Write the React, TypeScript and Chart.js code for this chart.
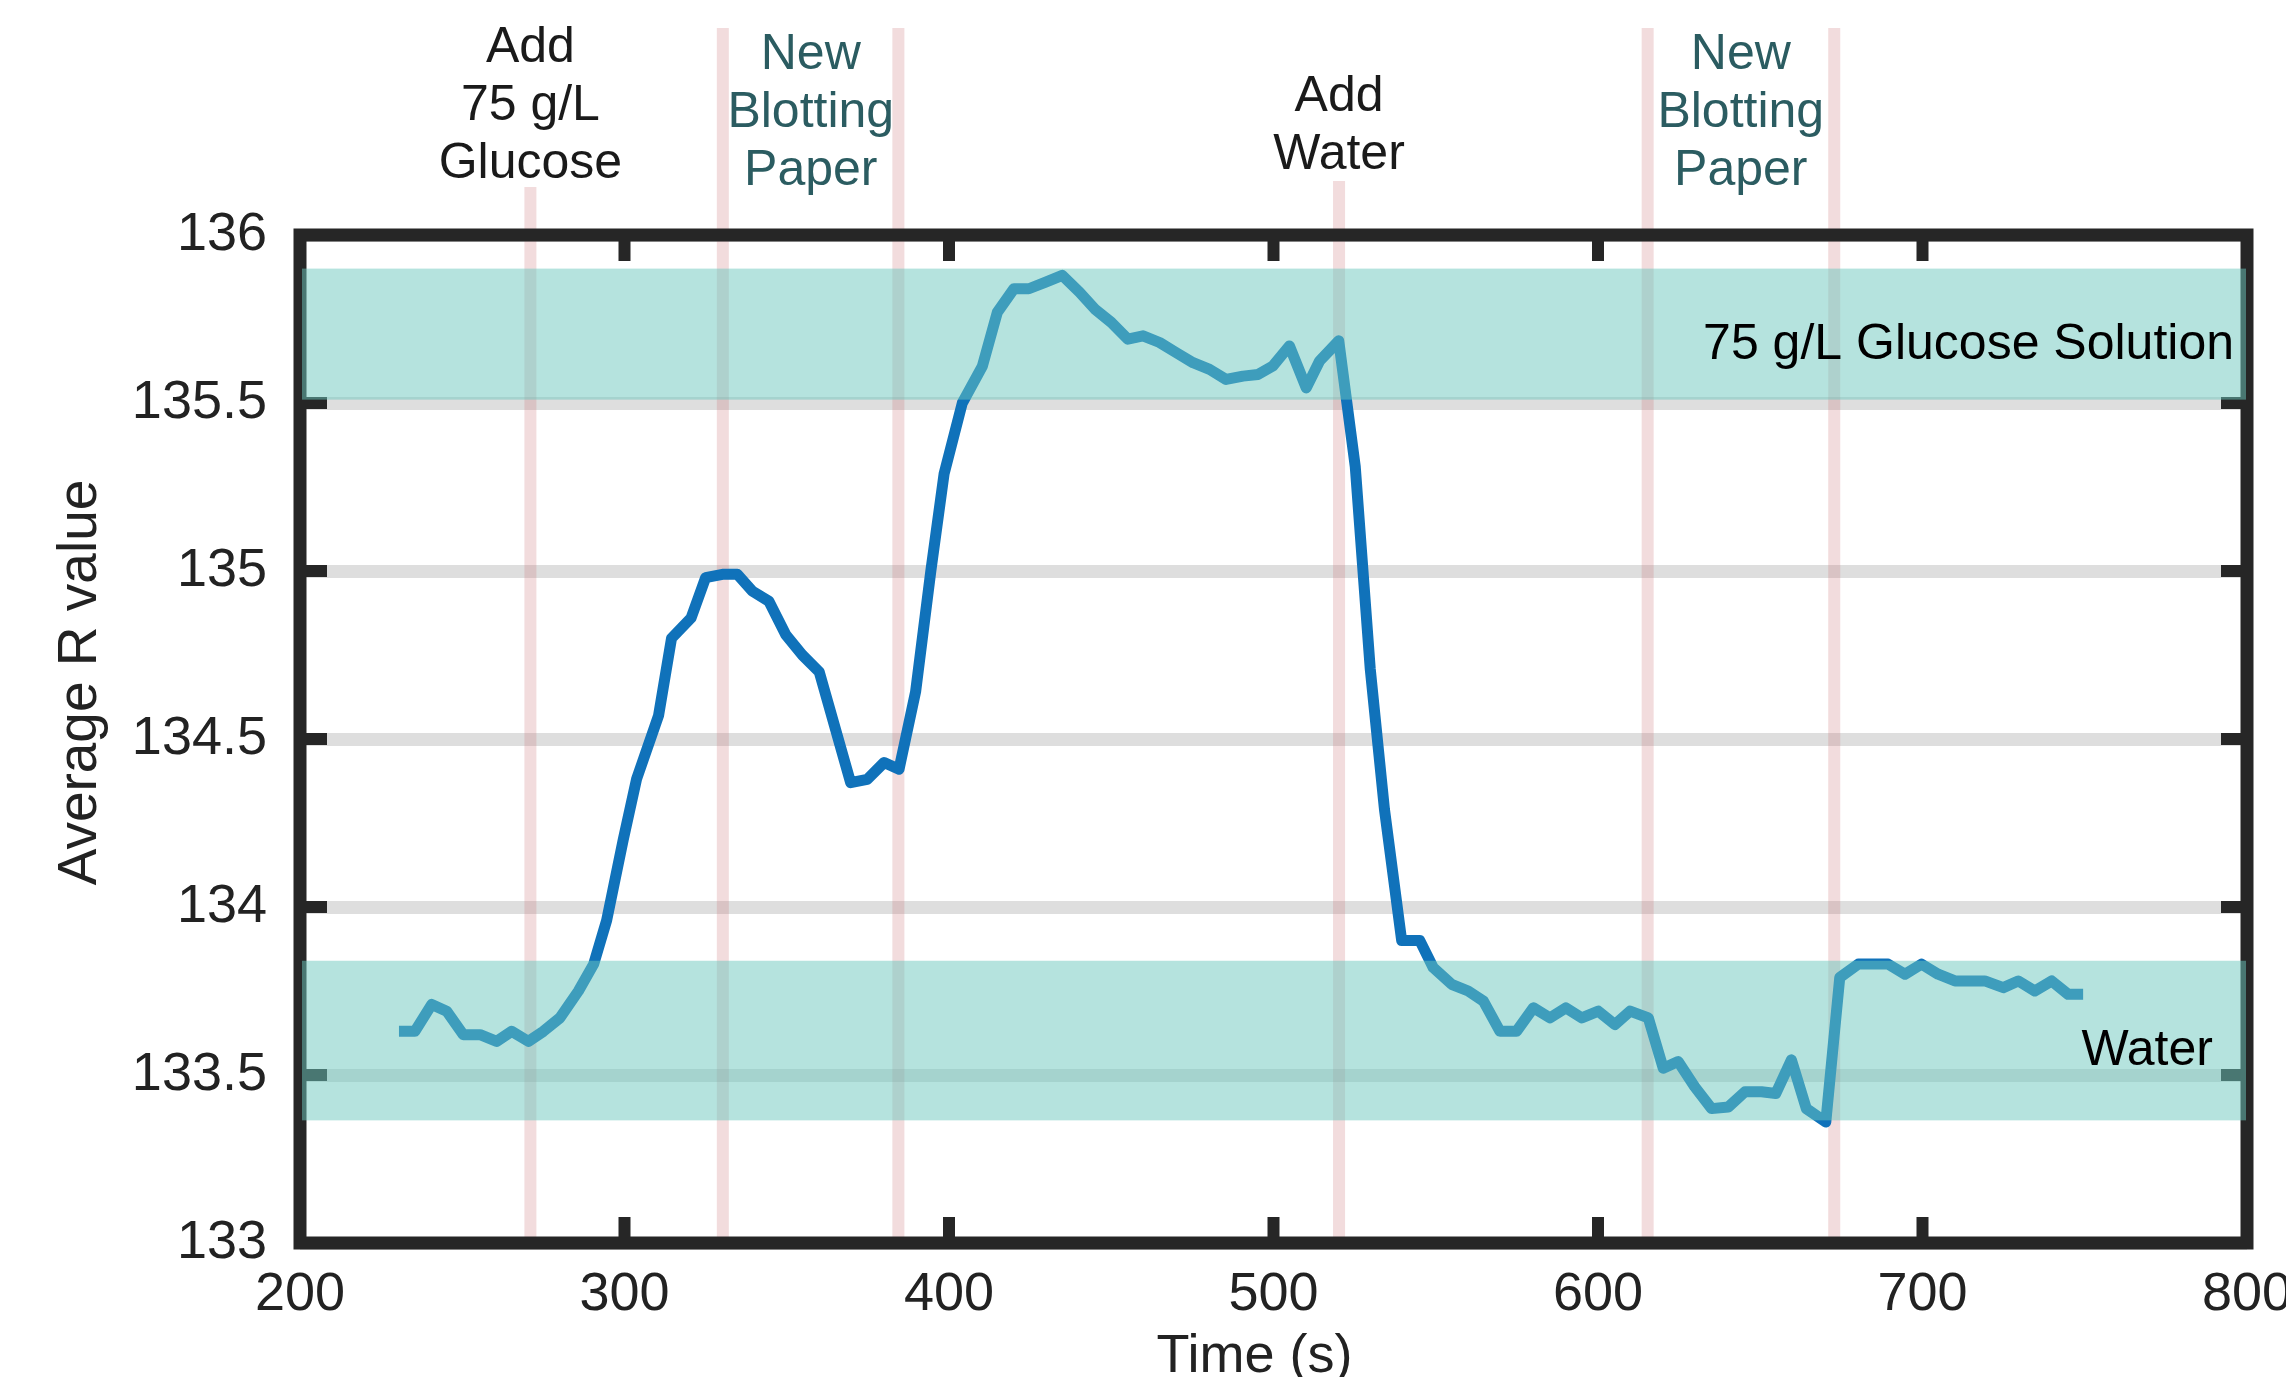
import React, { useEffect, useRef } from "react";
import { Chart, registerables } from "chart.js";

Chart.register(...registerables);

// Time stamps (s) of each R-value sample
const times = [
  230.5, 235.4, 240.6, 245.2, 250.3, 255.5, 260.6, 265.2, 270.4, 275.0,
  280.1, 285.8, 290.5, 294.5, 299.6, 303.7, 310.5, 314.5, 320.5, 325.0,
  330.2, 334.8, 339.4, 344.5, 349.7, 354.8, 360.0, 369.7, 374.8, 380.0,
  384.6, 389.7, 394.4, 398.5, 404.1, 410.3, 414.9, 420.0, 424.6, 429.8,
  434.9, 440.2, 444.9, 450.0, 455.1, 459.8, 464.9, 470.0, 475.2, 480.3,
  485.4, 490.6, 495.2, 499.8, 504.9, 510.1, 514.2, 520.1, 525.2, 529.8,
  534.2, 539.5, 545.1, 549.2, 554.9, 560.0, 564.7, 569.8, 574.9, 580.1,
  585.2, 590.1, 595.0, 600.1, 605.2, 609.9, 615.5, 620.1, 624.7, 629.8,
  635.0, 640.2, 645.3, 650.4, 654.8, 659.6, 664.2, 670.2, 674.5, 680.2,
  689.4, 694.6, 699.7, 704.8, 710.0, 719.2, 724.9, 729.5, 734.6, 739.8,
  744.9, 749.5,
];

// Average R value at each time stamp
const rValues = [
  133.63, 133.63, 133.71, 133.69, 133.62, 133.62, 133.6, 133.63, 133.6, 133.63,
  133.67, 133.75, 133.83, 133.96, 134.2, 134.38, 134.57, 134.8, 134.86, 134.98,
  134.99, 134.99, 134.94, 134.91, 134.81, 134.75, 134.7, 134.37, 134.38, 134.43,
  134.41, 134.64, 135.0, 135.29, 135.5, 135.61, 135.77, 135.84, 135.84, 135.86,
  135.88, 135.83, 135.78, 135.74, 135.69, 135.7, 135.68, 135.65, 135.62, 135.6,
  135.57, 135.58, 135.585, 135.61, 135.67, 135.545, 135.625, 135.685, 135.31, 134.71,
  134.29, 133.9, 133.9, 133.82, 133.77, 133.75, 133.72, 133.63, 133.63, 133.7,
  133.67, 133.7, 133.67, 133.69, 133.65, 133.69, 133.67, 133.52, 133.54, 133.465,
  133.4, 133.405, 133.45, 133.45, 133.445, 133.545, 133.4, 133.36, 133.79, 133.83,
  133.83, 133.8, 133.83, 133.8, 133.78, 133.78, 133.76, 133.78, 133.75, 133.78,
  133.74, 133.74,
];

// Reference ranges (R value) for the two solutions
const glucoseBand = [135.51, 135.9];
const waterBand = [133.365, 133.84];
const glucoseBandLabel = "75 g/L Glucose Solution";
const waterBandLabel = "Water";

// Event markers (s)
const eventTimes = [271.0, 330.3, 384.4, 520.2, 615.3, 672.8];
const glucoseEvent = { time: 271.0, lines: ["Add", "75 g/L", "Glucose"] };
const waterEvent = { time: 520.2, lines: ["Add", "Water"] };
const paperEvents = [357.4, 644.0];
const paperLines = ["New", "Blotting", "Paper"];

const xTitle = "Time (s)";
const yTitle = "Average R value";

const FONT = "'Liberation Sans', Arial, sans-serif";

const decorPlugin = {
  id: "decor",
  beforeDatasetsDraw(chart: any) {
    const { ctx, chartArea, scales } = chart;
    const x = scales.x;
    ctx.save();
    ctx.strokeStyle = "rgba(203,115,119,0.25)";
    ctx.lineWidth = 12;
    eventTimes.forEach((t) => {
      const px = x.getPixelForValue(t);
      let topPx = 28;
      if (t === glucoseEvent.time) topPx = 187;
      if (t === waterEvent.time) topPx = 181;
      ctx.beginPath();
      ctx.moveTo(px, topPx);
      ctx.lineTo(px, chartArea.bottom);
      ctx.stroke();
    });
    ctx.restore();
  },
  afterDatasetsDraw(chart: any) {
    const { ctx, chartArea, scales } = chart;
    const { left, right, top, bottom } = chartArea;
    const x = scales.x;
    const y = scales.y;
    ctx.save();

    // axes box
    ctx.strokeStyle = "#262626";
    ctx.lineWidth = 13;
    ctx.lineJoin = "miter";
    ctx.strokeRect(left, top, right - left, bottom - top);

    // inward tick marks on all four sides
    ctx.lineWidth = 12;
    ctx.lineCap = "butt";
    x.ticks.forEach((tk: any) => {
      if (tk.value <= x.min || tk.value >= x.max) return;
      const px = x.getPixelForValue(tk.value);
      ctx.beginPath();
      ctx.moveTo(px, bottom);
      ctx.lineTo(px, bottom - 26);
      ctx.moveTo(px, top);
      ctx.lineTo(px, top + 26);
      ctx.stroke();
    });
    y.ticks.forEach((tk: any) => {
      if (tk.value <= y.min || tk.value >= y.max) return;
      const py = y.getPixelForValue(tk.value);
      ctx.beginPath();
      ctx.moveTo(left, py);
      ctx.lineTo(left + 27, py);
      ctx.moveTo(right, py);
      ctx.lineTo(right - 26, py);
      ctx.stroke();
    });

    // translucent solution bands
    ctx.fillStyle = "rgba(107,199,189,0.5)";
    [glucoseBand, waterBand].forEach(([lo, hi]) => {
      const y0 = y.getPixelForValue(hi);
      const y1 = y.getPixelForValue(lo);
      ctx.fillRect(left + 2, y0, right - 1 - (left + 2), y1 - y0);
    });

    // band labels
    ctx.fillStyle = "#000";
    ctx.font = `50px ${FONT}`;
    ctx.textAlign = "right";
    ctx.textBaseline = "alphabetic";
    ctx.fillText(glucoseBandLabel, x.getPixelForValue(796), y.getPixelForValue(135.632));
    ctx.fillText(waterBandLabel, x.getPixelForValue(789.5), y.getPixelForValue(133.53));

    // event labels above the axes
    ctx.textAlign = "center";
    ctx.fillStyle = "#1a1a1a";
    glucoseEvent.lines.forEach((s, i) => {
      ctx.fillText(s, x.getPixelForValue(glucoseEvent.time), 62 + i * 58);
    });
    waterEvent.lines.forEach((s, i) => {
      ctx.fillText(s, x.getPixelForValue(waterEvent.time), 111 + i * 58);
    });
    ctx.fillStyle = "#2b5c61";
    paperEvents.forEach((t) => {
      paperLines.forEach((s, i) => {
        ctx.fillText(s, x.getPixelForValue(t), 69 + i * 58);
      });
    });

    // axis titles
    ctx.fillStyle = "#222";
    ctx.font = `54px ${FONT}`;
    ctx.textAlign = "center";
    ctx.fillText(xTitle, (left + right) / 2 - 19, 1372);

    ctx.translate(81, top + 447.5);
    ctx.rotate(-Math.PI / 2);
    ctx.font = `55px ${FONT}`;
    ctx.textBaseline = "middle";
    ctx.fillText(yTitle, 0, 0);
    ctx.restore();
  },
};

export default function App() {
  const canvasRef = useRef<HTMLCanvasElement | null>(null);

  useEffect(() => {
    const canvas = canvasRef.current;
    if (!canvas) return;
    const chart = new Chart(canvas, {
      type: "line",
      data: {
        datasets: [
          {
            data: times.map((t, i) => ({ x: t, y: rValues[i] })),
            borderColor: "#1072ba",
            borderWidth: 11,
            pointRadius: 0,
            tension: 0,
            borderJoinStyle: "round",
            borderCapStyle: "butt",
            fill: false,
          },
        ],
      },
      options: {
        responsive: false,
        devicePixelRatio: 1,
        animation: false,
        events: [],
        layout: { padding: { top: 235, right: 39, bottom: 0, left: 0 } },
        plugins: {
          legend: { display: false },
          tooltip: { enabled: false },
        },
        scales: {
          x: {
            type: "linear",
            position: "bottom",
            min: 200,
            max: 800,
            grid: { display: false, drawTicks: false },
            border: { display: false },
            ticks: {
              stepSize: 100,
              maxRotation: 0,
              autoSkip: false,
              padding: 20,
              color: "#222",
              font: { family: FONT, size: 54 },
              callback: (v: any) => String(v),
            },
            afterFit: (scale: any) => {
              scale.height = 134;
              scale.paddingLeft = 0;
              scale.paddingRight = 0;
            },
          },
          y: {
            type: "linear",
            position: "left",
            min: 133,
            max: 136,
            grid: { color: "#dedede", lineWidth: 13, drawTicks: false },
            border: { display: false },
            ticks: {
              stepSize: 0.5,
              autoSkip: false,
              padding: 33,
              color: "#222",
              font: { family: FONT, size: 54 },
              callback: (v: any) => String(v),
            },
            afterFit: (scale: any) => {
              scale.width = 300;
              scale.paddingTop = 0;
              scale.paddingBottom = 0;
            },
          },
        },
      },
      plugins: [decorPlugin],
    } as any);
    return () => chart.destroy();
  }, []);

  return (
    <div style={{ position: "absolute", left: 0, top: 0, width: 2286, height: 1377, background: "#fff" }}>
      <canvas ref={canvasRef} width={2286} height={1377} style={{ display: "block" }} />
    </div>
  );
}
